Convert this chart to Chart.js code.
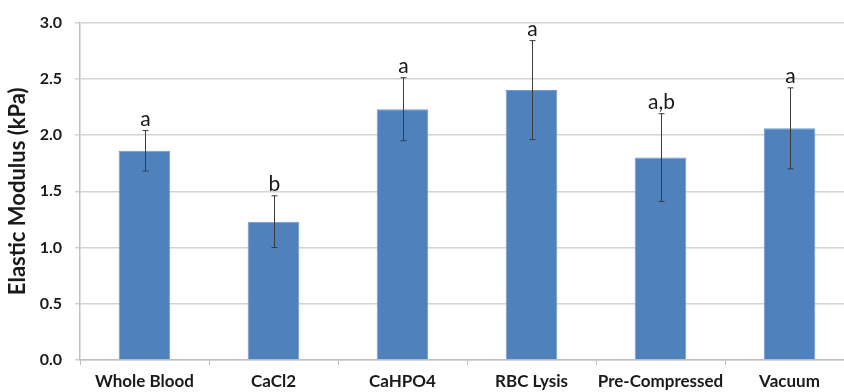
<!DOCTYPE html>
<html>
<head>
<meta charset="utf-8">
<script src="https://cdn.jsdelivr.net/npm/chart.js@4.4.1/dist/chart.umd.min.js"></script>
<style>
  html, body { margin: 0; padding: 0; background: #ffffff; overflow: hidden; }
  #wrap { width: 854px; height: 392px; }
</style>
</head>
<body>
<div id="wrap"><canvas id="chart" width="854" height="392"></canvas></div>
<script>
// Elastic modulus of clots by preparation method (mean ± SD, kPa)
const categories = ['Whole Blood', 'CaCl2', 'CaHPO4', 'RBC Lysis', 'Pre-Compressed', 'Vacuum'];
const modulus = [1.86, 1.23, 2.23, 2.40, 1.80, 2.06];
const sd = [0.18, 0.23, 0.28, 0.44, 0.39, 0.36];
const groups = ['a', 'b', 'a', 'a', 'a,b', 'a'];
const yTicks = [0, 0.5, 1.0, 1.5, 2.0, 2.5, 3.0];

const FONT = 'Lato, "Open Sans", "DejaVu Sans", sans-serif';

// Error bars with small caps, plus the significance-group letters above them
const errorBarPlugin = {
  id: 'errorBars',
  afterDatasetsDraw(chart) {
    const ctx = chart.ctx;
    const y = chart.scales.y;
    const meta = chart.getDatasetMeta(0);
    ctx.save();
    meta.data.forEach((bar, i) => {
      const x = Math.round(bar.x) + 0.5;
      const hi = y.getPixelForValue(modulus[i] + sd[i]);
      const lo = y.getPixelForValue(modulus[i] - sd[i]);
      ctx.strokeStyle = '#3c3c3c';
      ctx.lineWidth = 1;
      ctx.beginPath();
      ctx.moveTo(x, hi); ctx.lineTo(x, lo);
      ctx.moveTo(x - 3, hi); ctx.lineTo(x + 3, hi);
      ctx.moveTo(x - 3, lo); ctx.lineTo(x + 3, lo);
      ctx.stroke();
      ctx.fillStyle = '#1a1a1a';
      ctx.font = '21px ' + FONT;
      ctx.textAlign = 'center';
      ctx.textBaseline = 'alphabetic';
      ctx.fillText(groups[i], x, hi - 5);
    });
    ctx.restore();
  }
};

new Chart(document.getElementById('chart'), {
  type: 'bar',
  data: {
    labels: categories,
    datasets: [{
      data: modulus,
      backgroundColor: '#4f81bd',
      borderColor: '#6f9bd1',
      borderWidth: 1,
      barPercentage: 0.4,
      categoryPercentage: 1.0
    }]
  },
  options: {
    responsive: false,
    animation: false,
    devicePixelRatio: 1,
    layout: { padding: { top: 22, right: 0, bottom: 0, left: 0 } },
    plugins: { legend: { display: false }, tooltip: { enabled: false } },
    scales: {
      x: {
        afterFit(scale) { scale.height = 32; },
        grid: {
          offset: true,
          drawOnChartArea: false,
          tickLength: 5,
          color: '#bfbfbf',
          lineWidth: 1
        },
        border: { color: '#bfbfbf', width: 1.5 },
        ticks: {
          color: '#1a1a1a',
          font: { family: FONT, size: 17, weight: 'bold' },
          padding: 6,
          maxRotation: 0,
          autoSkip: false
        }
      },
      y: {
        min: 0,
        max: 3.0,
        afterFit(scale) { scale.width = 80; },
        afterBuildTicks(scale) { scale.ticks = yTicks.map(v => ({ value: v })); },
        grid: { color: '#d4d4d4', lineWidth: 1.5, tickLength: 5 },
        border: { color: '#bfbfbf', width: 1.5 },
        ticks: {
          color: '#1a1a1a',
          font: { family: FONT, size: 16, weight: 'bold' },
          padding: 13,
          callback: v => Number(v).toFixed(1)
        },
        title: {
          display: true,
          text: 'Elastic Modulus (kPa)',
          color: '#1a1a1a',
          font: { family: FONT, size: 22, weight: 'bold' },
          padding: { top: 5, bottom: 0 }
        }
      }
    }
  },
  plugins: [errorBarPlugin]
});
</script>
</body>
</html>
